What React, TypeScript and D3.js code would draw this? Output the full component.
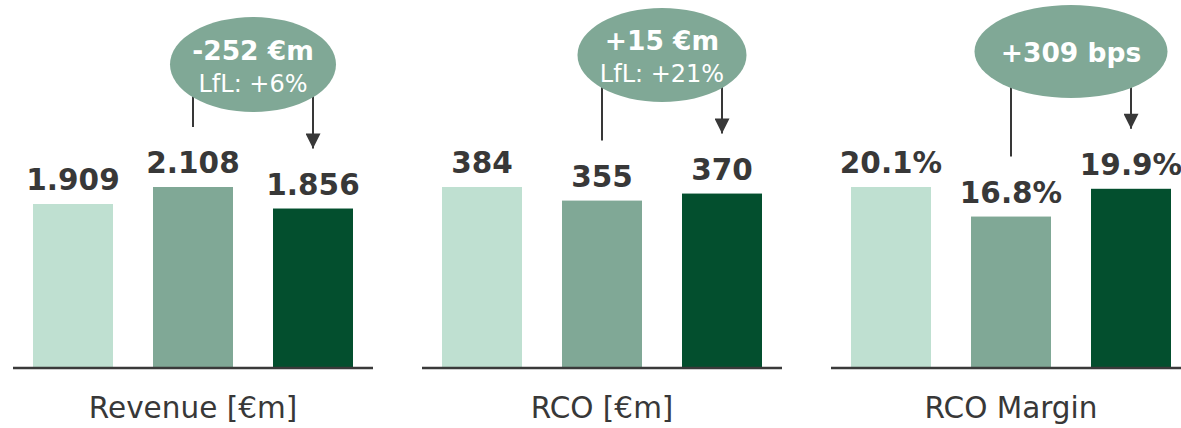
import React, { useEffect, useRef } from 'react';
import * as d3 from 'd3';

const panelTitles = ['Revenue [€m]', 'RCO [€m]', 'RCO Margin'];
const barKeys = ['prior', 'restated', 'current'];
const revenueValues = [1909, 2108, 1856];
const rcoValues = [384, 355, 370];
const marginValues = [20.1, 16.8, 19.9];
const revenueLabels = ['1.909', '2.108', '1.856'];
const rcoLabels = ['384', '355', '370'];
const marginLabels = ['20.1%', '16.8%', '19.9%'];
const bubbleMain = ['-252 €m', '+15 €m', '+309 bps'];
const bubbleSub = ['LfL: +6%', 'LfL: +21%', ''];
const barColors = ['#bfe0d1', '#80a896', '#034f2e'];

const App = () => {
    const svgRef = useRef(null);

    useEffect(() => {
        const svg = d3.select(svgRef.current);
        const width = 1181;
        const height = 428;
        const baseline = 367;
        const barMaxHeight = 180;
        const panelLeft = [13, 422, 831];
        const panelWidth = 360;
        // bubble geometry per panel: cy, rx, ry
        const bubbles = [
            { cy: 64.5, rx: 83, ry: 47.5 },
            { cy: 55, rx: 84.5, ry: 47 },
            { cy: 51.5, rx: 96.5, ry: 46.5 },
        ];
        const ink = '#383838';
        const font = 'DejaVu Sans, sans-serif';

        svg.attr('width', width).attr('height', height).selectAll('*').remove();

        const defs = svg.append('defs');
        defs.append('marker')
            .attr('id', 'arrowhead')
            .attr('viewBox', '0 0 10 10')
            .attr('refX', 10)
            .attr('refY', 5)
            .attr('markerUnits', 'userSpaceOnUse')
            .attr('markerWidth', 16)
            .attr('markerHeight', 15)
            .attr('orient', 'auto')
            .append('path')
            .attr('d', 'M0,0 L10,5 L0,10 Z')
            .attr('fill', ink);

        const panels = [
            { values: revenueValues, labels: revenueLabels },
            { values: rcoValues, labels: rcoLabels },
            { values: marginValues, labels: marginLabels },
        ];

        panels.forEach((p, i) => {
            const g = svg.append('g');
            const x = d3.scaleBand()
                .domain(barKeys)
                .range([panelLeft[i], panelLeft[i] + panelWidth])
                .paddingInner(1 / 3)
                .paddingOuter(1 / 6);
            const y = d3.scaleLinear()
                .domain([0, d3.max(p.values)])
                .range([baseline, baseline - barMaxHeight]);

            g.selectAll('.bar')
                .data(p.values)
                .enter()
                .append('rect')
                .attr('x', (d, j) => x(barKeys[j]))
                .attr('y', d => y(d))
                .attr('width', x.bandwidth())
                .attr('height', d => y(0) - y(d))
                .attr('fill', (d, j) => barColors[j]);

            g.selectAll('.label')
                .data(p.values)
                .enter()
                .append('text')
                .attr('x', (d, j) => x(barKeys[j]) + x.bandwidth() / 2)
                .attr('y', d => y(d) - 14)
                .attr('text-anchor', 'middle')
                .attr('font-family', font)
                .attr('font-weight', 700)
                .attr('font-size', 29.5)
                .attr('fill', ink)
                .text((d, j) => p.labels[j]);

            g.append('line')
                .attr('x1', panelLeft[i])
                .attr('x2', panelLeft[i] + panelWidth)
                .attr('y1', baseline + 1)
                .attr('y2', baseline + 1)
                .attr('stroke', '#3a3a3a')
                .attr('stroke-width', 2.5);

            g.append('text')
                .attr('x', panelLeft[i] + panelWidth / 2)
                .attr('y', 418)
                .attr('text-anchor', 'middle')
                .attr('font-family', font)
                .attr('font-size', 29.5)
                .attr('fill', ink)
                .text(panelTitles[i]);

            // bridge annotation
            const xMid = x(barKeys[1]) + x.bandwidth() / 2;
            const xEnd = x(barKeys[2]) + x.bandwidth() / 2;
            const b = bubbles[i];
            const cx = (xMid + xEnd) / 2;
            const edge = (px) => b.cy + b.ry * Math.sqrt(Math.max(0, 1 - ((px - cx) / b.rx) ** 2));

            g.append('line')
                .attr('x1', xMid).attr('x2', xMid)
                .attr('y1', edge(xMid) - 2)
                .attr('y2', y(p.values[1]) - 60)
                .attr('stroke', ink)
                .attr('stroke-width', 2);

            g.append('line')
                .attr('x1', xEnd).attr('x2', xEnd)
                .attr('y1', edge(xEnd) - 2)
                .attr('y2', y(p.values[2]) - 60)
                .attr('stroke', ink)
                .attr('stroke-width', 2)
                .attr('marker-end', 'url(#arrowhead)');

            g.append('ellipse')
                .attr('cx', cx)
                .attr('cy', b.cy)
                .attr('rx', b.rx)
                .attr('ry', b.ry)
                .attr('fill', barColors[1]);

            const hasSub = bubbleSub[i] !== '';
            g.append('text')
                .attr('x', cx)
                .attr('y', hasSub ? b.cy - 5 : b.cy + 10)
                .attr('text-anchor', 'middle')
                .attr('font-family', font)
                .attr('font-weight', 700)
                .attr('font-size', 26.5)
                .attr('fill', '#ffffff')
                .text(bubbleMain[i]);

            if (hasSub) {
                g.append('text')
                    .attr('x', cx)
                    .attr('y', b.cy + 27)
                    .attr('text-anchor', 'middle')
                    .attr('font-family', font)
                    .attr('font-size', 24)
                    .attr('fill', '#ffffff')
                    .text(bubbleSub[i]);
            }
        });
    }, []);

    return <svg ref={svgRef} style={{ position: 'absolute', left: 0, top: 0 }}></svg>;
};

export default App;
